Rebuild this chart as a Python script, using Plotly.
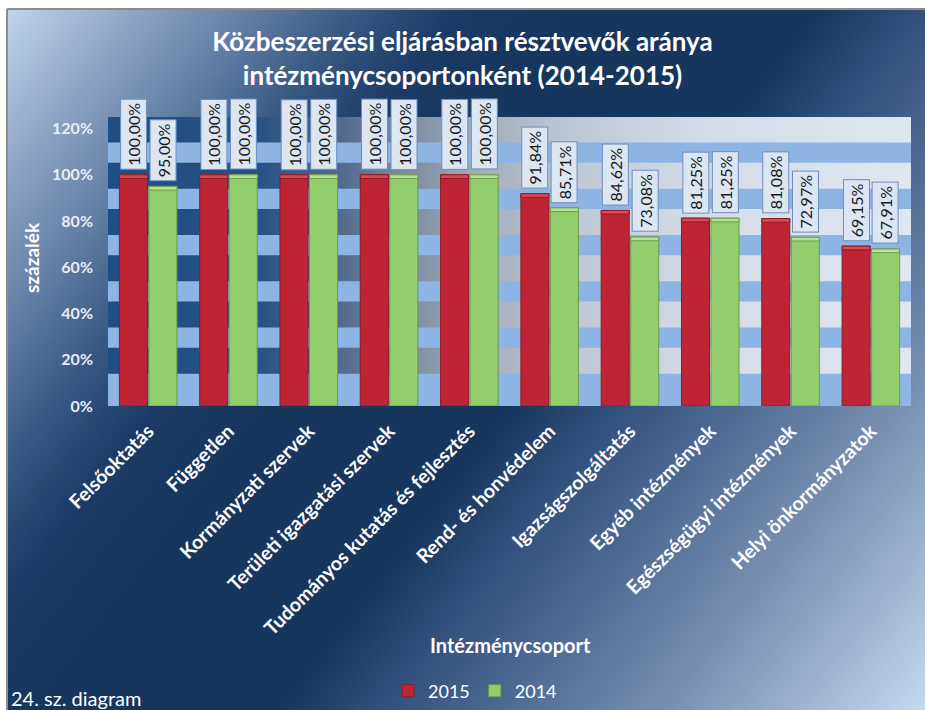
import base64
import struct
import zlib
import plotly.graph_objects as go

# ---------------- data ----------------
categories = [
    "Felsőoktatás",
    "Független",
    "Kormányzati szervek",
    "Területi igazgatási szervek",
    "Tudományos kutatás és fejlesztés",
    "Rend- és honvédelem",
    "Igazságszolgáltatás",
    "Egyéb intézmények",
    "Egészségügyi intézmények",
    "Helyi önkormányzatok",
]
values_2015 = [100.00, 100.00, 100.00, 100.00, 100.00, 91.84, 84.62, 81.25, 81.08, 69.15]
values_2014 = [95.00, 100.00, 100.00, 100.00, 100.00, 85.71, 73.08, 81.25, 72.97, 67.91]
series_names = ["2015", "2014"]
y_ticks = [0, 20, 40, 60, 80, 100, 120]
title_text = "Közbeszerzési eljárásban résztvevők aránya<br>intézménycsoportonként (2014-2015)"
y_title = "százalék"
x_title = "Intézménycsoport"
footnote = "24. sz. diagram"

# ---------------- geometry / style ----------------
FW, FH = 925, 710
ML, MR, MT, MB = 108, 14, 117, 304
PW = FW - ML - MR
PH = FH - MT - MB
Y_MAX = 125
FONT = "Lato, 'Open Sans', sans-serif"
RED, RED_CAP, RED_EDGE = "#BE2434", "#DC4853", "#8E1C27"
GREEN, GREEN_CAP, GREEN_EDGE = "#92CE6C", "#B7E193", "#6E9C50"
BARGAP, BARGROUPGAP = 0.265, 0.05


def px_x(X):
    return (X - ML) / PW


def px_y(Y):
    return (FH - MB - Y) / PH


def hex_rgb(h):
    h = h.lstrip("#")
    return tuple(int(h[i:i + 2], 16) for i in (0, 2, 4))


def interp(stops, t):
    t = min(max(t, 0.0), 1.0)
    for (t0, c0), (t1, c1) in zip(stops, stops[1:]):
        if t <= t1:
            f = 0 if t1 == t0 else (t - t0) / (t1 - t0)
            a, b = hex_rgb(c0), hex_rgb(c1)
            return bytes(int(round(a[k] + (b[k] - a[k]) * f)) for k in range(3))
    return bytes(hex_rgb(stops[-1][1]))


def png_uri(w, h, pixel):
    raw = bytearray()
    for j in range(h):
        raw.append(0)
        for i in range(w):
            raw.extend(pixel(i, j))

    def chunk(tag, data):
        c = struct.pack(">I", len(data)) + tag + data
        return c + struct.pack(">I", zlib.crc32(tag + data) & 0xFFFFFFFF)

    png = (b"\x89PNG\r\n\x1a\n"
           + chunk(b"IHDR", struct.pack(">IIBBBBB", w, h, 8, 2, 0, 0, 0))
           + chunk(b"IDAT", zlib.compress(bytes(raw), 9))
           + chunk(b"IEND", b""))
    return "data:image/png;base64," + base64.b64encode(png).decode()


# chart-area background (diagonal light-dark-light gradient)
BG_X0, BG_Y0 = 7, 9
BG_W, BG_H = FW - BG_X0, FH - BG_Y0
bg_stops = [
    (0.00, "#c6d9f1"), (0.10, "#8da5c5"), (0.18, "#607da3"), (0.25, "#375882"),
    (0.32, "#1b3a65"), (0.40, "#17365d"), (0.56, "#17365d"), (0.62, "#2e4d78"),
    (0.70, "#4a6790"), (0.82, "#768fb1"), (0.92, "#a0b6d3"), (1.00, "#c6d9f1"),
]
IW, IH = 460, 350


def bg_pixel(i, j):
    X = BG_X0 + (i + 0.5) * BG_W / IW
    Y = BG_Y0 + (j + 0.5) * BG_H / IH
    return interp(bg_stops, (1.3 * X + Y) / (1.3 * FW + FH))


bg_uri = png_uri(IW, IH, bg_pixel)

# plot-area horizontal gradient
pa_stops = [
    (0.00, "#1f4e86"), (0.18, "#275085"), (0.28, "#4e678c"), (0.36, "#7787a0"),
    (0.46, "#a2acb9"), (0.56, "#bcc6d2"), (0.74, "#d3dce7"), (1.00, "#dfe7f1"),
]
pa_uri = png_uri(200, 4, lambda i, j: interp(pa_stops, (i + 0.5) / 200))

# ---------------- figure ----------------
fig = go.Figure()
for name, vals, col, edge in [
    (series_names[0], values_2015, RED, RED_EDGE),
    (series_names[1], values_2014, GREEN, GREEN_EDGE),
]:
    fig.add_trace(go.Bar(
        x=categories, y=vals, name=name, offsetgroup=name,
        marker=dict(color=col, line=dict(color=edge, width=1)),
        hoverinfo="x+y",
    ))
for name, vals, cap_col, edge in [
    (series_names[0], values_2015, RED_CAP, RED_EDGE),
    (series_names[1], values_2014, GREEN_CAP, GREEN_EDGE),
]:
    cap = 1.6
    fig.add_trace(go.Bar(
        x=categories, y=[cap] * len(vals), base=[v - cap for v in vals],
        offsetgroup=name, showlegend=False, hoverinfo="skip",
        marker=dict(color=cap_col, line=dict(color=edge, width=1)),
    ))

# light horizontal bands of the plot area
shapes = []
for k in range(6):
    lo = 0 if k == 0 else 20 * k + 5.2
    hi = 20 * k + 14
    shapes.append(dict(type="rect", xref="paper", yref="y", x0=0, x1=1, y0=lo, y1=hi,
                       fillcolor="#8db4e2", line=dict(width=0), layer="below"))
# chart frame (top / left edges)
shapes.append(dict(type="line", xref="paper", yref="paper",
                   x0=px_x(BG_X0), x1=px_x(FW), y0=px_y(BG_Y0), y1=px_y(BG_Y0),
                   line=dict(color="#8c8c8c", width=2), layer="below"))
shapes.append(dict(type="line", xref="paper", yref="paper",
                   x0=px_x(BG_X0), x1=px_x(BG_X0), y0=px_y(BG_Y0), y1=px_y(FH),
                   line=dict(color="#8c8c8c", width=2), layer="below"))

# data labels
cat_px = PW / len(categories)
slot = cat_px * (1 - BARGAP) / 2
annotations = []
for vals, sign in [(values_2015, -1), (values_2014, 1)]:
    for c, v in zip(categories, vals):
        annotations.append(dict(
            x=c, y=v, xref="x", yref="y", text=f"{v:.2f}".replace(".", ",") + "%",
            textangle=-90, showarrow=False, xanchor="center", yanchor="bottom",
            xshift=sign * slot / 2, yshift=5,
            font=dict(family=FONT, size=16, color="#1a1a1a"),
            bgcolor="#dce6f2", bordercolor="#6d8ebc", borderwidth=1, borderpad=3,
        ))
annotations.append(dict(
    text=y_title, textangle=-90, xref="paper", yref="paper", x=px_x(31), y=px_y(258),
    showarrow=False, xanchor="center", yanchor="middle",
    font=dict(family=FONT, size=19, color="white", weight="bold"),
))
annotations.append(dict(
    text=x_title, xref="paper", yref="paper", x=px_x(510), y=px_y(645),
    showarrow=False, xanchor="center", yanchor="middle",
    font=dict(family=FONT, size=20, color="white", weight="bold"),
))
annotations.append(dict(
    text=footnote, xref="paper", yref="paper", x=px_x(9), y=px_y(698),
    showarrow=False, xanchor="left", yanchor="middle",
    font=dict(family=FONT, size=20, color="white"),
))

images = [
    dict(source=bg_uri, xref="paper", yref="paper", x=px_x(BG_X0), y=px_y(BG_Y0),
         sizex=BG_W / PW, sizey=BG_H / PH, xanchor="left", yanchor="top",
         sizing="stretch", layer="below"),
    dict(source=pa_uri, xref="paper", yref="paper", x=0, y=1, sizex=1, sizey=1,
         xanchor="left", yanchor="top", sizing="stretch", layer="below"),
]

fig.update_layout(
    width=FW, height=FH,
    margin=dict(l=ML, r=MR, t=MT, b=MB, autoexpand=False),
    paper_bgcolor="white", plot_bgcolor="rgba(0,0,0,0)",
    barmode="group", bargap=BARGAP, bargroupgap=BARGROUPGAP,
    title=dict(text=title_text, x=0.5, xref="container", xanchor="center",
               y=(FH - 51) / FH, yref="container", yanchor="middle",
               font=dict(family=FONT, size=26, color="white", weight="bold")),
    xaxis=dict(type="category", tickangle=-45, showgrid=False, showline=False,
               zeroline=False, ticks="", ticklabelstandoff=9,
               tickfont=dict(family=FONT, size=19.5, color="white", weight="bold")),
    yaxis=dict(range=[0, Y_MAX], tickvals=y_ticks, ticktext=[f"{t}%" for t in y_ticks],
               showgrid=False, zeroline=False, showline=False, ticks="",
               ticklabelstandoff=14,
               tickfont=dict(family=FONT, size=16, color="#e8eef5", weight="bold")),
    legend=dict(orientation="h", x=px_x(475), xanchor="center", y=px_y(691),
                yanchor="middle", font=dict(family=FONT, size=18, color="white"),
                bgcolor="rgba(0,0,0,0)", itemwidth=30, traceorder="normal"),
    shapes=shapes, annotations=annotations, images=images,
    showlegend=True,
)

fig.write_html(
    "out.html",
    config={"displayModeBar": False},
    post_script="document.body.style.margin='0';document.body.style.padding='0';",
)
